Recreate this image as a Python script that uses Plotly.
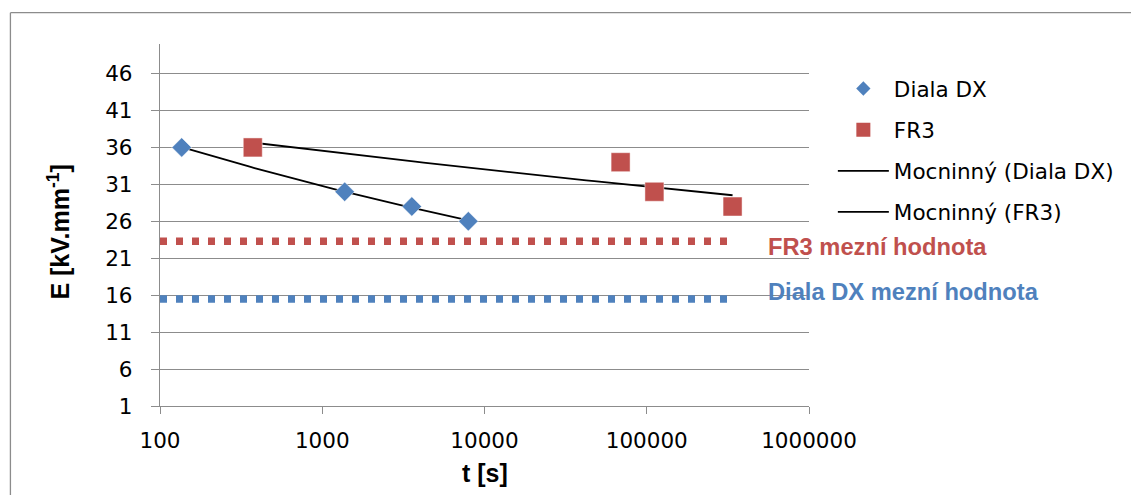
import numpy as np
import plotly.graph_objects as go

# ---- data ----
diala_t = [136, 1375, 3565, 7950]
diala_E = [36, 30, 28, 26]
fr3_t = [373, 69000, 111500, 338000]
fr3_E = [36, 34, 30, 28]
fr3_limit = 23.3
diala_limit = 15.5
x_start = 100
x_tick_vals = [100, 1000, 10000, 100000, 1000000]
x_tick_text = ["100", "1000", "10000", "100000", "1000000"]
y_tick_vals = [1, 6, 11, 16, 21, 26, 31, 36, 41, 46]

BLUE = "#4F81BD"
RED = "#C0504D"
GRID = "#8C8C8C"
REG = "DejaVu Sans"
BOLD = "Liberation Sans, Arial"

W, H = 1131, 495
L, R, T, B = 160, 318, 44, 89
PW, PH = W - L - R, H - T - B


def px_x(p):
    return (p - L) / PW


def px_y(p):
    return (H - B - p) / PH


def power_fit(t, e):
    b, lna = np.polyfit(np.log(t), np.log(e), 1)
    xs = np.geomspace(min(t), max(t), 60)
    return xs, np.exp(lna) * xs ** b


fig = go.Figure()

# limit lines
fig.add_trace(go.Scatter(x=[x_start, max(fr3_t)], y=[fr3_limit, fr3_limit], mode="lines",
                         line=dict(color=RED, width=7.5, dash="7px,9px"), showlegend=False,
                         hoverinfo="skip"))
fig.add_trace(go.Scatter(x=[x_start, max(fr3_t)], y=[diala_limit, diala_limit], mode="lines",
                         line=dict(color=BLUE, width=7.5, dash="7px,9px"), showlegend=False,
                         hoverinfo="skip"))

# trend lines
tx, ty = power_fit(diala_t, diala_E)
fig.add_trace(go.Scatter(x=tx, y=ty, mode="lines", line=dict(color="black", width=1.8),
                         showlegend=False))
tx, ty = power_fit(fr3_t, fr3_E)
fig.add_trace(go.Scatter(x=tx, y=ty, mode="lines", line=dict(color="black", width=1.8),
                         showlegend=False))

# markers
fig.add_trace(go.Scatter(x=diala_t, y=diala_E, mode="markers", name="Diala DX",
                         marker=dict(symbol="diamond", size=15, color=BLUE,
                                     line=dict(width=0.8, color="rgba(255,255,255,0.6)")),
                         showlegend=False))
fig.add_trace(go.Scatter(x=fr3_t, y=fr3_E, mode="markers", name="FR3",
                         marker=dict(symbol="square", size=19, color=RED,
                                     line=dict(width=0.8, color="rgba(255,255,255,0.6)")),
                         showlegend=False))

# legend entries
fig.add_trace(go.Scatter(x=[None], y=[None], mode="markers", name="Diala DX", legendgroup="a",
                         marker=dict(symbol="diamond", size=11, color=BLUE)))
fig.add_trace(go.Scatter(x=[None], y=[None], mode="markers", name="FR3", legendgroup="b",
                         marker=dict(symbol="square", size=14, color=RED)))
fig.add_trace(go.Scatter(x=[None], y=[None], mode="lines", name="Mocninný (Diala DX)",
                         legendgroup="c", line=dict(color="black", width=1.8)))
fig.add_trace(go.Scatter(x=[None], y=[None], mode="lines", name="Mocninný (FR3)",
                         legendgroup="d", line=dict(color="black", width=1.8)))

shapes = [
    # white patch behind limit labels (hides gridlines)
    dict(type="rect", xref="paper", yref="y", x0=px_x(750), x1=1.002, y0=12, y1=25,
         fillcolor="white", line=dict(width=0), layer="between"),
    # chart border (left + top)
    dict(type="line", xref="paper", yref="paper", x0=px_x(9.5), x1=px_x(9.5),
         y0=px_y(12.7), y1=px_y(520), line=dict(color=GRID, width=1.3)),
    dict(type="line", xref="paper", yref="paper", x0=px_x(9.5), x1=px_x(1140),
         y0=px_y(12.7), y1=px_y(12.7), line=dict(color=GRID, width=1.3)),
]

annotations = [
    dict(text="FR3 mezní hodnota", xref="paper", yref="paper", x=px_x(770), y=px_y(246.5),
         xanchor="left", yanchor="middle", showarrow=False,
         font=dict(family=BOLD, size=23.7, color=RED, weight="bold")),
    dict(text="Diala DX mezní hodnota", xref="paper", yref="paper", x=px_x(770), y=px_y(291.7),
         xanchor="left", yanchor="middle", showarrow=False,
         font=dict(family=BOLD, size=23.7, color=BLUE, weight="bold")),
    dict(text="t [s]", xref="paper", yref="paper", x=0.5, y=px_y(473),
         xanchor="center", yanchor="middle", showarrow=False,
         font=dict(family=BOLD, size=25, color="black", weight="bold")),
    dict(text="E [kV.mm<sup>-1</sup>]", xref="paper", yref="paper", x=px_x(58), y=px_y(232),
         xanchor="center", yanchor="middle", showarrow=False, textangle=-90,
         font=dict(family=BOLD, size=25, color="black", weight="bold")),
]

fig.update_layout(
    width=W, height=H, autosize=False,
    margin=dict(l=L, r=R, t=T, b=B, pad=0),
    paper_bgcolor="white", plot_bgcolor="white",
    font=dict(family=REG, size=21.5, color="black"),
    shapes=shapes, annotations=annotations,
    legend=dict(x=px_x(837), y=px_y(68), xanchor="left", yanchor="top",
                itemwidth=51, tracegroupgap=10.2, bgcolor="rgba(0,0,0,0)",
                font=dict(family=REG, size=21.5, color="black")),
    xaxis=dict(type="log", range=[2, 6], tickvals=x_tick_vals, ticktext=x_tick_text,
               showgrid=False, showline=True, linecolor=GRID, linewidth=1.3,
               ticks="outside", ticklen=7, tickcolor=GRID, tickwidth=1.3,
               ticklabelstandoff=8, zeroline=False),
    yaxis=dict(range=[1, 50], tickvals=y_tick_vals, showgrid=True, gridcolor=GRID,
               gridwidth=1.3, showline=True, linecolor=GRID, linewidth=1.3,
               ticks="outside", ticklen=8, tickcolor=GRID, tickwidth=1.3,
               ticklabelstandoff=14, zeroline=False),
)

fig.write_html("out.html")
